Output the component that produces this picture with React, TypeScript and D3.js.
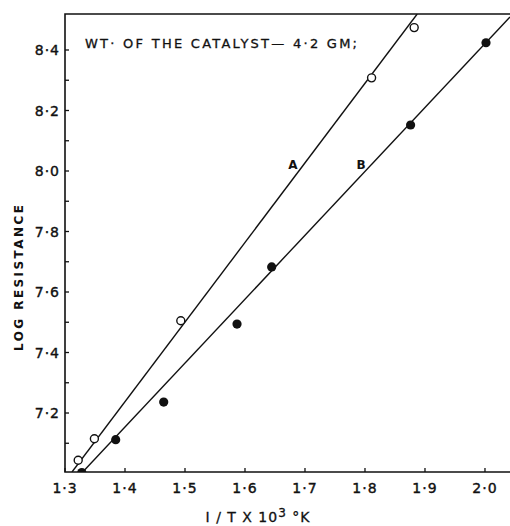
import * as d3 from "d3";
import { useEffect, useRef } from "react";

// 1/T x 10^3 (°K^-1) vs log resistance
const seriesA = [
  { x: 1.322, y: 7.044 },
  { x: 1.349, y: 7.115 },
  { x: 1.493, y: 7.505 },
  { x: 1.811, y: 8.308 },
  { x: 1.882, y: 8.474 },
];

const seriesB = [
  { x: 1.328, y: 7.003 },
  { x: 1.3845, y: 7.112 },
  { x: 1.4645, y: 7.236 },
  { x: 1.5867, y: 7.494 },
  { x: 1.6445, y: 7.683 },
  { x: 1.876, y: 8.152 },
  { x: 2.0017, y: 8.424 },
];

// fitted straight lines (end points)
const lineA = [
  { x: 1.3117, y: 7.005 },
  { x: 1.887, y: 8.519 },
];
const lineB = [
  { x: 1.3295, y: 7.005 },
  { x: 2.0417, y: 8.509 },
];

const xTicks = [1.3, 1.4, 1.5, 1.6, 1.7, 1.8, 1.9, 2.0];
const yTicks = [7.2, 7.4, 7.6, 7.8, 8.0, 8.2, 8.4];
const yMinorTicks = [7.1, 7.3, 7.5, 7.7, 7.9, 8.1, 8.3];

const fmt = (v: number) => v.toFixed(1).replace(".", "·");

const App = () => {
  const svgRef = useRef<SVGSVGElement | null>(null);
  const width = 510;
  const height = 526;

  useEffect(() => {
    const margin = { top: 14, right: 0, bottom: 54, left: 65 };
    const w = width - margin.left - margin.right;
    const h = height - margin.top - margin.bottom;

    const xScale = d3.scaleLinear().domain([1.3, 2.0417]).range([0, w]);
    const yScale = d3.scaleLinear().domain([7.005, 8.519]).range([h, 0]);

    const svg = d3.select(svgRef.current);
    svg.selectAll("*").remove();

    svg
      .append("defs")
      .append("clipPath")
      .attr("id", "plot-clip")
      .append("rect")
      .attr("width", w)
      .attr("height", h);

    const g = svg
      .append("g")
      .attr("transform", `translate(${margin.left},${margin.top})`);

    const font = "'DejaVu Sans', sans-serif";
    const ink = "#111";

    // frame: left, bottom, top
    g.append("path")
      .attr("d", `M${w},0H0V${h}H${w}`)
      .attr("fill", "none")
      .attr("stroke", ink)
      .attr("stroke-width", 1.6);

    // x ticks (inward)
    g.selectAll(".xt")
      .data(xTicks)
      .join("line")
      .attr("x1", (d) => xScale(d))
      .attr("x2", (d) => xScale(d))
      .attr("y1", h)
      .attr("y2", h - 4)
      .attr("stroke", ink)
      .attr("stroke-width", 1.3);

    g.selectAll(".xl")
      .data(xTicks)
      .join("text")
      .attr("x", (d) => xScale(d))
      .attr("y", h + 21)
      .attr("text-anchor", "middle")
      .attr("font-family", font)
      .attr("font-size", 14)
      .attr("letter-spacing", 1)
      .attr("fill", ink)
      .attr("stroke", ink)
      .attr("stroke-width", 0.4)
      .text((d) => fmt(d));

    // y ticks
    g.selectAll(".yt")
      .data([...yTicks, ...yMinorTicks])
      .join("line")
      .attr("x1", 0)
      .attr("x2", 4)
      .attr("y1", (d) => yScale(d))
      .attr("y2", (d) => yScale(d))
      .attr("stroke", ink)
      .attr("stroke-width", 1.3);

    g.selectAll(".yl")
      .data(yTicks)
      .join("text")
      .attr("x", -5)
      .attr("y", (d) => yScale(d) + 5)
      .attr("text-anchor", "end")
      .attr("font-family", font)
      .attr("font-size", 14)
      .attr("letter-spacing", 1)
      .attr("fill", ink)
      .attr("stroke", ink)
      .attr("stroke-width", 0.4)
      .text((d) => fmt(d));

    const plot = g.append("g").attr("clip-path", "url(#plot-clip)");

    const line = d3
      .line<{ x: number; y: number }>()
      .x((d) => xScale(d.x))
      .y((d) => yScale(d.y));

    [lineA, lineB].forEach((pts) => {
      plot
        .append("path")
        .datum(pts)
        .attr("fill", "none")
        .attr("stroke", ink)
        .attr("stroke-width", 1.4)
        .attr("d", line);
    });

    plot
      .selectAll(".pa")
      .data(seriesA)
      .join("circle")
      .attr("cx", (d) => xScale(d.x))
      .attr("cy", (d) => yScale(d.y))
      .attr("r", 4)
      .attr("fill", "#fff")
      .attr("stroke", ink)
      .attr("stroke-width", 1.4);

    plot
      .selectAll(".pb")
      .data(seriesB)
      .join("circle")
      .attr("cx", (d) => xScale(d.x))
      .attr("cy", (d) => yScale(d.y))
      .attr("r", 4.6)
      .attr("fill", ink);

    // curve labels
    [
      { t: "A", x: 293 },
      { t: "B", x: 361 },
    ].forEach((l) => {
      g.append("text")
        .attr("x", l.x - margin.left)
        .attr("y", 169 - margin.top)
        .attr("text-anchor", "middle")
        .attr("font-family", font)
        .attr("font-size", 12)
        .attr("font-weight", "bold")
        .attr("fill", ink)
        .text(l.t);
    });

    // note
    g.append("text")
      .attr("x", 85 - margin.left)
      .attr("y", 48 - margin.top)
      .attr("font-family", font)
      .attr("font-size", 13)
      .attr("textLength", 272)
      .attr("lengthAdjust", "spacing")
      .attr("fill", ink)
      .attr("stroke", ink)
      .attr("stroke-width", 0.3)
      .text("WT· OF THE CATALYST— 4·2 GM;");

    // axis titles
    svg
      .append("text")
      .attr("transform", "translate(23,278) rotate(-90)")
      .attr("text-anchor", "middle")
      .attr("font-family", font)
      .attr("font-size", 12)
      .attr("font-weight", "bold")
      .attr("textLength", 146)
      .attr("lengthAdjust", "spacing")
      .attr("fill", ink)
      .text("LOG  RESISTANCE");

    const xl = svg
      .append("text")
      .attr("x", 258)
      .attr("y", 522)
      .attr("text-anchor", "middle")
      .attr("font-family", font)
      .attr("font-size", 14)
      .attr("letter-spacing", 1)
      .attr("fill", ink)
      .attr("stroke", ink)
      .attr("stroke-width", 0.3);
    xl.append("tspan").text("I / T X 10");
    xl.append("tspan").attr("dy", -5).attr("font-size", 12).text("3");
    xl.append("tspan").attr("dy", 5).text(" °K");
  }, []);

  return (
    <svg
      ref={svgRef}
      width={width}
      height={height}
      style={{ position: "absolute", left: 0, top: 0, background: "#fff" }}
    ></svg>
  );
};

export default App;
